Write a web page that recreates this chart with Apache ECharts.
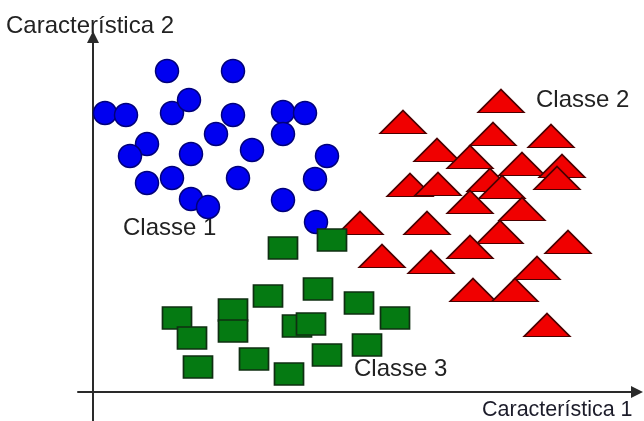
<!DOCTYPE html>
<html>
<head>
<meta charset="utf-8">
<script src="https://cdn.jsdelivr.net/npm/echarts@6/dist/echarts.min.js"></script>
<style>
  html, body { margin: 0; padding: 0; background: #fff; }
  #main { width: 644px; height: 421px; }
</style>
</head>
<body>
<div id="main"></div>
<script>
// feature values [característica 1, característica 2]
const classe1 = [
  [74, 321], [140, 321], [12, 279], [33, 277], [79, 279], [96, 292],
  [140, 277], [190, 280], [212, 279], [123, 258], [190, 258], [54, 248],
  [37, 236], [98, 238], [159, 242], [234, 236], [54, 209], [79, 214],
  [145, 214], [222, 213], [98, 193], [115, 185], [190, 192], [223, 170]
];
const classe2 = [
  [310, 270], [408, 291], [400, 258], [458, 256], [344, 242], [377, 235],
  [429, 228], [469, 226], [464, 214], [317, 207], [345, 208], [397, 212],
  [409, 205], [377, 190], [429, 183], [267, 169], [334, 169], [407, 160],
  [377, 145], [475, 150], [289, 136], [338, 130], [444, 124], [380, 102],
  [422, 102], [454, 67]
];
const classe3 = [
  [190, 144], [239, 152], [175, 96], [225, 103], [266, 89], [302, 74],
  [84, 74], [140, 82], [140, 61], [99, 54], [204, 66], [218, 68],
  [274, 47], [234, 37], [161, 33], [105, 25], [196, 18]
];
const axisNames = ['Característica 1', 'Característica 2'];
const classNames = ['Classe 1', 'Classe 2', 'Classe 3'];

const chart = echarts.init(document.getElementById('main'));

const font = 'Liberation Sans, Arial, sans-serif';
const axisLine = {
  onZero: true,
  symbol: ['none', 'triangle'],
  symbolSize: [12, 12],
  lineStyle: { color: '#2a2a2a', width: 2 }
};

const option = {
  backgroundColor: '#ffffff',
  animation: false,
  grid: { left: 78, right: 7, top: 37, bottom: 0 },
  xAxis: {
    type: 'value', min: -15, max: 544,
    axisLine: axisLine,
    axisTick: { show: false }, axisLabel: { show: false }, splitLine: { show: false }
  },
  yAxis: {
    type: 'value', min: -29, max: 355,
    axisLine: axisLine,
    axisTick: { show: false }, axisLabel: { show: false }, splitLine: { show: false }
  },
  graphic: [
    { type: 'text', left: 6, top: 14, style: { text: axisNames[1], font: '24px ' + font, fill: '#222' } },
    { type: 'text', left: 482, top: 399, style: { text: axisNames[0], font: '21.5px ' + font, fill: '#1c1c2a' } },
    { type: 'text', left: 123, top: 216, style: { text: classNames[0], font: '24px ' + font, fill: '#222' } },
    { type: 'text', left: 536, top: 88, style: { text: classNames[1], font: '24px ' + font, fill: '#222' } },
    { type: 'text', left: 354, top: 357, style: { text: classNames[2], font: '24px ' + font, fill: '#222' } }
  ],
  series: [
    {
      name: classNames[0], type: 'scatter', data: classe1,
      symbol: 'circle', symbolSize: 23,
      itemStyle: { color: '#0000f0', borderColor: '#00007a', borderWidth: 1.5, opacity: 1 }
    },
    {
      name: classNames[1], type: 'scatter', data: classe2,
      symbol: 'triangle', symbolSize: [46, 23],
      itemStyle: { color: '#f00000', borderColor: '#4a0000', borderWidth: 1.5, opacity: 1 }
    },
    {
      name: classNames[2], type: 'scatter', data: classe3,
      symbol: 'rect', symbolSize: [29, 22],
      itemStyle: { color: '#057a12', borderColor: '#0f2f12', borderWidth: 1.5, opacity: 1 }
    }
  ]
};

chart.setOption(option);
</script>
</body>
</html>
